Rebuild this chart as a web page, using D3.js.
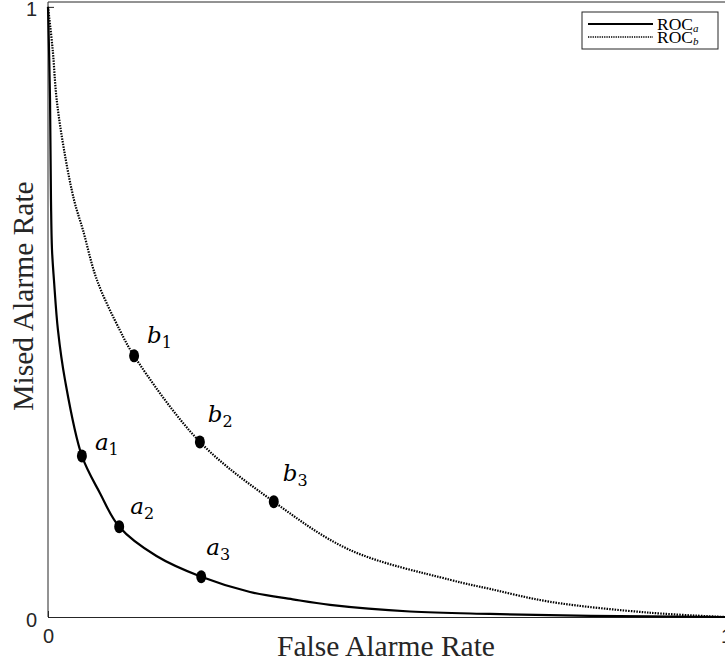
<!DOCTYPE html>
<html>
<head>
<meta charset="utf-8">
<script src="https://cdn.jsdelivr.net/npm/d3@7"></script>
<style>
  body { margin: 0; background: #fff; }
  svg { display: block; }
</style>
</head>
<body>
<svg id="chart" width="725" height="662"></svg>
<script>
// curve samples (false alarm rate, missed alarm rate)
const rocA_x = [0, 0.0015, 0.003, 0.0044, 0.0059, 0.0088, 0.0147, 0.025, 0.050, 0.0767, 0.105, 0.16, 0.226, 0.298, 0.361, 0.416, 0.534, 0.652, 0.80, 1];
const rocA_y = [1, 0.93, 0.848, 0.684, 0.602, 0.552, 0.470, 0.389, 0.264, 0.203, 0.148, 0.100, 0.066, 0.041, 0.029, 0.020, 0.009, 0.005, 0.002, 0];

const rocB_x = [0, 0.0069, 0.0128, 0.0236, 0.0383, 0.0516, 0.0723, 0.106, 0.127, 0.224, 0.333, 0.445, 0.593, 0.652, 0.740, 0.888, 1];
const rocB_y = [1, 0.930, 0.848, 0.766, 0.684, 0.634, 0.552, 0.470, 0.428, 0.287, 0.189, 0.110, 0.061, 0.046, 0.025, 0.007, 0];

// operating points
const pointNames = ['a', 'a', 'a', 'b', 'b', 'b'];
const pointIdx = ['1', '2', '3', '1', '2', '3'];
const point_x = [0.050, 0.105, 0.226, 0.127, 0.224, 0.333];
const point_y = [0.264, 0.148, 0.066, 0.428, 0.287, 0.189];

const xTicks = [0, 1];
const yTicks = [0, 1];
const legendNames = ['a', 'b'];

const svg = d3.select('svg#chart');

const mLeft = 48, mRight = 726, mBottom = 617, mTop = 2;
const x = d3.scaleLinear().domain([0, 1]).range([mLeft, mRight]);
const y = d3.scaleLinear().domain([0, 1.008]).range([mBottom, mTop]);

const axisColor = '#262626';
const serif = '"DejaVu Serif", "Liberation Serif", serif';

// frame
svg.append('line').attr('x1', mLeft).attr('x2', mRight).attr('y1', mTop).attr('y2', mTop)
  .attr('stroke', axisColor).attr('stroke-width', 1);

const xAxis = svg.append('g')
  .attr('transform', `translate(0,${mBottom})`)
  .call(d3.axisBottom(x).tickValues(xTicks).tickFormat(d3.format('d')).tickSizeInner(-6).tickSizeOuter(0).tickPadding(12));
const yAxis = svg.append('g')
  .attr('transform', `translate(${mLeft},0)`)
  .call(d3.axisLeft(y).tickValues(yTicks).tickFormat(d3.format('d')).tickSizeInner(-6).tickSizeOuter(0).tickPadding(11));

[xAxis, yAxis].forEach(g => {
  g.select('.domain').attr('stroke', axisColor).attr('stroke-width', 1);
  g.selectAll('.tick line').attr('stroke', axisColor);
  g.selectAll('.tick text')
    .attr('fill', '#262626')
    .style('font-family', '"Liberation Sans", Arial, sans-serif')
    .style('font-size', '20px');
});
yAxis.select('.domain').attr('d', `M0,${mBottom}V${mTop}`);
yAxis.selectAll('.tick text').attr('dy', '0.45em');

// curves
const line = d3.line()
  .x(d => x(d[0]))
  .y(d => y(d[1]))
  .curve(d3.curveCatmullRom.alpha(0.5));

svg.append('path')
  .datum(d3.zip(rocA_x, rocA_y))
  .attr('d', line)
  .attr('fill', 'none')
  .attr('stroke', '#000')
  .attr('stroke-width', 2.2);

svg.append('path')
  .datum(d3.zip(rocB_x, rocB_y))
  .attr('d', line)
  .attr('fill', 'none')
  .attr('stroke', '#000')
  .attr('stroke-width', 2.2)
  .attr('stroke-dasharray', '1.5,1.2');

// points
svg.selectAll('ellipse.pt')
  .data(d3.range(point_x.length))
  .enter().append('ellipse')
  .attr('class', 'pt')
  .attr('cx', i => x(point_x[i]))
  .attr('cy', i => y(point_y[i]))
  .attr('rx', 5)
  .attr('ry', 6.5)
  .attr('fill', '#000');

// label nudges in px (placement only)
const nudge = [[13, -6], [11, -13], [5, -22], [13, -13], [8, -20], [9, -21]];

const lbl = svg.selectAll('text.pt')
  .data(d3.range(point_x.length))
  .enter().append('text')
  .attr('class', 'pt')
  .attr('x', i => x(point_x[i]) + nudge[i][0])
  .attr('y', i => y(point_y[i]) + nudge[i][1])
  .style('font-family', serif);
lbl.append('tspan')
  .style('font-family', serif)
  .style('font-style', 'italic')
  .style('font-size', '23px')
  .text(i => pointNames[i]);
lbl.append('tspan')
  .attr('dy', 5)
  .style('font-family', serif)
  .style('font-size', '16px')
  .text(i => pointIdx[i]);

// axis titles
svg.append('text')
  .attr('x', (mLeft + mRight) / 2 - 1)
  .attr('y', 656)
  .attr('text-anchor', 'middle')
  .style('font-family', '"Liberation Serif", "Times New Roman", serif')
  .style('font-size', '29.5px')
  .attr('fill', '#262626')
  .text('False Alarme Rate');

svg.append('text')
  .attr('transform', 'translate(33,296) rotate(-90)')
  .attr('text-anchor', 'middle')
  .style('font-family', '"Liberation Serif", "Times New Roman", serif')
  .style('font-size', '29.5px')
  .attr('fill', '#262626')
  .text('Mised Alarme Rate');

// legend
const legend = svg.append('g').attr('transform', 'translate(582,12)');
legend.append('rect')
  .attr('width', 136).attr('height', 37)
  .attr('fill', '#fff')
  .attr('stroke', axisColor)
  .attr('stroke-width', 1);

const rows = legend.selectAll('g.row')
  .data(legendNames)
  .enter().append('g')
  .attr('class', 'row')
  .attr('transform', (d, i) => `translate(0,${12 + i * 13})`);
rows.append('line')
  .attr('x1', 6).attr('x2', 71)
  .attr('stroke', '#000')
  .attr('stroke-width', (d, i) => i === 0 ? 2 : 1.6)
  .attr('stroke-dasharray', (d, i) => i === 0 ? null : '1.3,1');
const lt = rows.append('text')
  .attr('x', 75)
  .attr('y', 5.5)
  .style('font-family', '"Liberation Serif", "Times New Roman", serif');
lt.append('tspan').style('font-size', '17.5px').text('ROC');
lt.append('tspan').attr('dy', 2).style('font-size', '11px').style('font-style', 'italic').text(d => d);
</script>
</body>
</html>
